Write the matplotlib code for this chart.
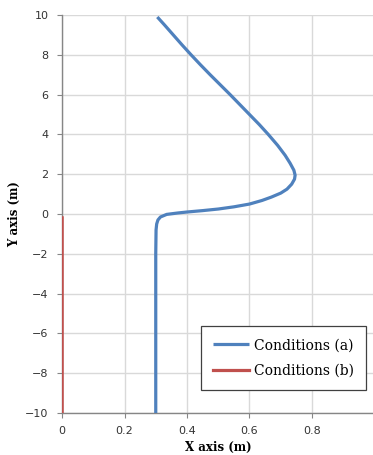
import matplotlib.pyplot as plt

# Conditions (a): profile
a_x = [0.300, 0.300, 0.301, 0.303, 0.307, 0.315, 0.335, 0.370, 0.400, 0.450,
       0.500, 0.550, 0.600, 0.640, 0.670, 0.700, 0.720, 0.735, 0.744, 0.746,
       0.742, 0.730, 0.714, 0.690, 0.660, 0.631, 0.600, 0.569, 0.538, 0.506,
       0.474, 0.443, 0.413, 0.384, 0.356, 0.328, 0.305]
a_y = [-10.0, -2.0, -0.8, -0.5, -0.3, -0.15, -0.02, 0.05, 0.10, 0.17,
       0.25, 0.36, 0.50, 0.68, 0.85, 1.05, 1.25, 1.50, 1.75, 1.95,
       2.20, 2.55, 2.95, 3.45, 4.00, 4.50, 5.00, 5.50, 6.00, 6.50,
       7.00, 7.50, 8.00, 8.50, 9.00, 9.50, 9.90]

# Conditions (b)
b_x = [0.0, 0.0]
b_y = [-10.0, -0.15]

x_ticks = [0, 0.2, 0.4, 0.6, 0.8]
x_tick_labels = ["0", "0.2", "0.4", "0.6", "0.8"]
y_ticks = list(range(-10, 11, 2))

fig = plt.figure(figsize=(3.73, 4.55), dpi=100)
ax = fig.add_axes([62 / 373, 1 - 413 / 455, 312.5 / 373, 398 / 455])

ax.plot(a_x, a_y, color="#4F81BD", lw=2.3, label="Conditions (a)",
        solid_capstyle="butt", solid_joinstyle="round", zorder=3)
ax.plot(b_x, b_y, color="#C0504D", lw=1.8, label="Conditions (b)", zorder=3)

ax.set_xlim(0, 1.0)
ax.set_ylim(-10, 10)
ax.set_xticks(x_ticks)
ax.set_xticklabels(x_tick_labels)
ax.set_yticks(y_ticks)
ax.grid(True, color="#D9D9D9", lw=1.0)
ax.set_axisbelow(True)

for side in ["top", "right"]:
    ax.spines[side].set_visible(False)
for side in ["left", "bottom"]:
    ax.spines[side].set_color("#868686")
    ax.spines[side].set_linewidth(1.0)

ax.tick_params(axis="both", colors="#868686", length=3.6, width=0.8,
               labelsize=8, labelcolor="#333333", pad=6)

ax.set_xlabel("X axis (m)", family="DejaVu Serif", fontweight="bold",
              fontsize=8.5, labelpad=3)
ax.set_ylabel("Y axis (m)", family="DejaVu Serif", fontweight="bold",
              fontsize=8.5, labelpad=3)

leg = ax.legend(loc="lower right", bbox_to_anchor=(0.973, 0.058),
                borderaxespad=0,
                prop={"family": "DejaVu Serif", "size": 10},
                fancybox=False, framealpha=1, edgecolor="#404040",
                handlelength=2.6, borderpad=0.85, labelspacing=0.85,
                handletextpad=0.35)
leg.get_frame().set_linewidth(0.9)
for line in leg.get_lines():
    line.set_linewidth(2.3)

fig.savefig("out.png", dpi=100)
